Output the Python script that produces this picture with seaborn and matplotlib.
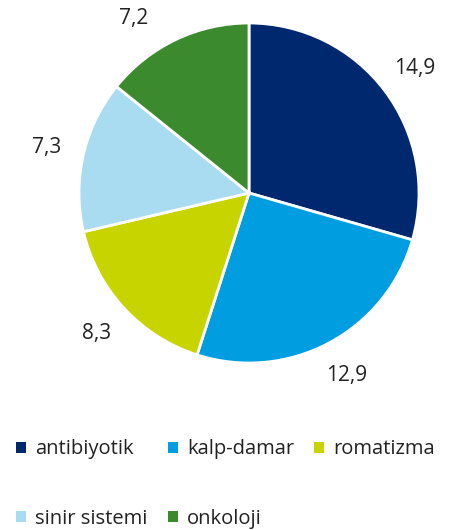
import numpy as np
import matplotlib.pyplot as plt
import seaborn as sns
from matplotlib.patches import Patch

categories = ['antibiyotik', 'kalp-damar', 'romatizma', 'sinir sistemi', 'onkoloji']
values = [14.9, 12.9, 8.3, 7.3, 7.2]
value_labels = ['14,9', '12,9', '8,3', '7,3', '7,2']
colors = ['#00286e', '#009ee0', '#c8d400', '#a9dcf0', '#3c8a2e']

sns.set_style('white')
plt.rcParams['font.family'] = ['Open Sans', 'DejaVu Sans']
palette = sns.color_palette(colors)

fig = plt.figure(figsize=(4.54, 5.30), dpi=100)
ax = fig.add_axes([79 / 454, 167 / 530, 340 / 454, 340 / 530])

wedges, texts = ax.pie(values, colors=palette, startangle=90, counterclock=False,
                       labels=value_labels, labeldistance=1.22,
                       wedgeprops=dict(edgecolor='white', linewidth=2),
                       textprops=dict(fontsize=15, color='#222222'))
for w, t in zip(wedges, texts):
    t.set_ha('center')
    t.set_va('center')
    t.set_clip_on(False)
# top label nudged sideways so it stays inside the figure
w, t = wedges[-1], texts[-1]
ang = np.deg2rad((w.theta1 + w.theta2) / 2 + 8)
t.set_position((1.23 * np.cos(ang), 1.23 * np.sin(ang)))

ax.set_xlim(-1, 1)
ax.set_ylim(-1, 1)
ax.set_aspect('equal')
ax.axis('off')

handles = [Patch(facecolor=c, edgecolor='none') for c in palette]
order = [0, 3, 1, 4, 2]
fig.legend([handles[i] for i in order], [categories[i] for i in order],
           ncol=3, loc='upper left', bbox_to_anchor=(-0.004, 0.205),
           frameon=False, fontsize=14.5, handlelength=0.5, handleheight=0.5,
           handletextpad=0.45, columnspacing=1.0, labelspacing=2.45,
           labelcolor='#222222')

fig.savefig('out.png', dpi=100)
